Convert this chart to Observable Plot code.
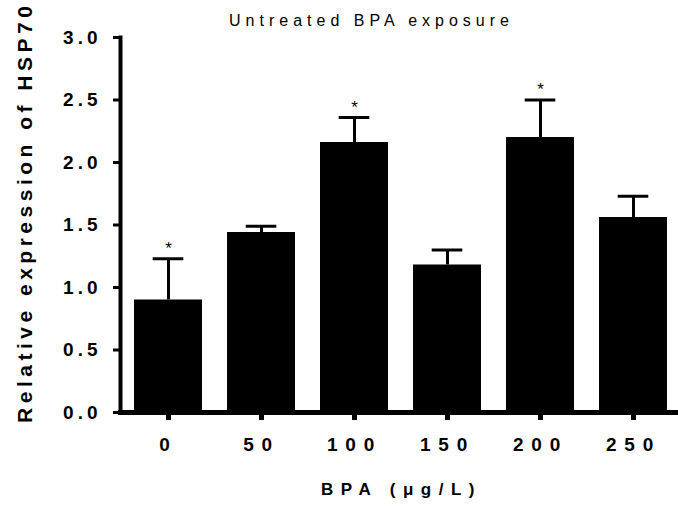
<!DOCTYPE html>
<html><head><meta charset="utf-8">
<script src="https://cdn.jsdelivr.net/npm/d3@7"></script>
<script src="https://cdn.jsdelivr.net/npm/@observablehq/plot@0.6"></script>
<style>body{margin:0;background:#fff} svg{display:block}</style>
</head><body><div id="chart"></div>
<script>
const doses = ["0", "50", "100", "150", "200", "250"];
const means = [0.90, 1.44, 2.16, 1.18, 2.20, 1.56];
const upper = [1.23, 1.49, 2.36, 1.30, 2.50, 1.73];
const significant = [true, false, true, false, true, false];
const yTicks = [0, 0.5, 1, 1.5, 2, 2.5, 3];
const title = "Untreated BPA exposure";
const xLabel = "BPA (μg/L)";
const yLabel = "Relative expression of HSP70";

const data = doses.map((d, i) => ({dose: d, mean: means[i], upper: upper[i], sig: significant[i]}));
const font = "'Liberation Sans', Arial, sans-serif";

const plot = Plot.plot({
  width: 678, height: 514,
  marginTop: 37, marginBottom: 102, marginLeft: 120, marginRight: 0,
  style: {fontFamily: font, background: "#fff", color: "#000", overflow: "visible"},
  x: {domain: doses, range: [122, 680], paddingInner: 0.267, paddingOuter: 0.117},
  y: {domain: [0, 3]},
  marks: [
    Plot.barY(data, {x: "dose", y: "mean", fill: "#000"}),
    Plot.ruleX(data, {x: "dose", y1: "mean", y2: "upper", stroke: "#000", strokeWidth: 3}),
    Plot.tickY(data, {x: "dose", y: "upper", stroke: "#000", strokeWidth: 3, inset: 18.7}),
    Plot.text(data.filter(d => d.sig), {x: "dose", y: "upper", text: () => "*", dy: -5, lineAnchor: "bottom", fontSize: 17}),
    Plot.axisY({ticks: yTicks, tickFormat: d3.format(".1f"), tickSize: 7, tickPadding: 12, fontSize: 19, fontWeight: "bold", strokeWidth: 3, label: null}),
    Plot.axisX({tickSize: 8, tickPadding: 16.5, fontSize: 19, fontWeight: "bold", strokeWidth: 5, label: null}),
    Plot.frame({anchor: "left", strokeWidth: 4, strokeLinecap: "square"}),
    Plot.frame({anchor: "bottom", strokeWidth: 5, strokeLinecap: "square"}),
    Plot.text([yLabel], {frameAnchor: "left", text: d => d, rotate: -90, textAnchor: "middle", lineAnchor: "bottom", dx: -89, dy: -12.75, fontSize: 21, fontWeight: "bold"}),
    Plot.text([title], {frameAnchor: "top", text: d => d, textAnchor: "middle", lineAnchor: "bottom", dx: -28, dy: -12, fontSize: 16}),
    Plot.text([xLabel], {frameAnchor: "bottom", text: d => d, textAnchor: "middle", lineAnchor: "bottom", dx: 2, dy: 82, fontSize: 17, fontWeight: "bold"})
  ]
});
document.getElementById("chart").appendChild(plot);

const svg = d3.select(plot);
svg.selectAll('g[aria-label="y-axis tick label"] text').style("letter-spacing", "4px");
svg.selectAll('g[aria-label="x-axis tick label"] text').style("letter-spacing", "7.7px");
svg.selectAll("text").filter(function() { return this.textContent === yLabel; }).style("letter-spacing", "4.5px");
svg.selectAll("text").filter(function() { return this.textContent === title; }).style("letter-spacing", "5px");
svg.selectAll("text").filter(function() { return this.textContent === xLabel; }).style("letter-spacing", "7.5px");
</script>
</body></html>
